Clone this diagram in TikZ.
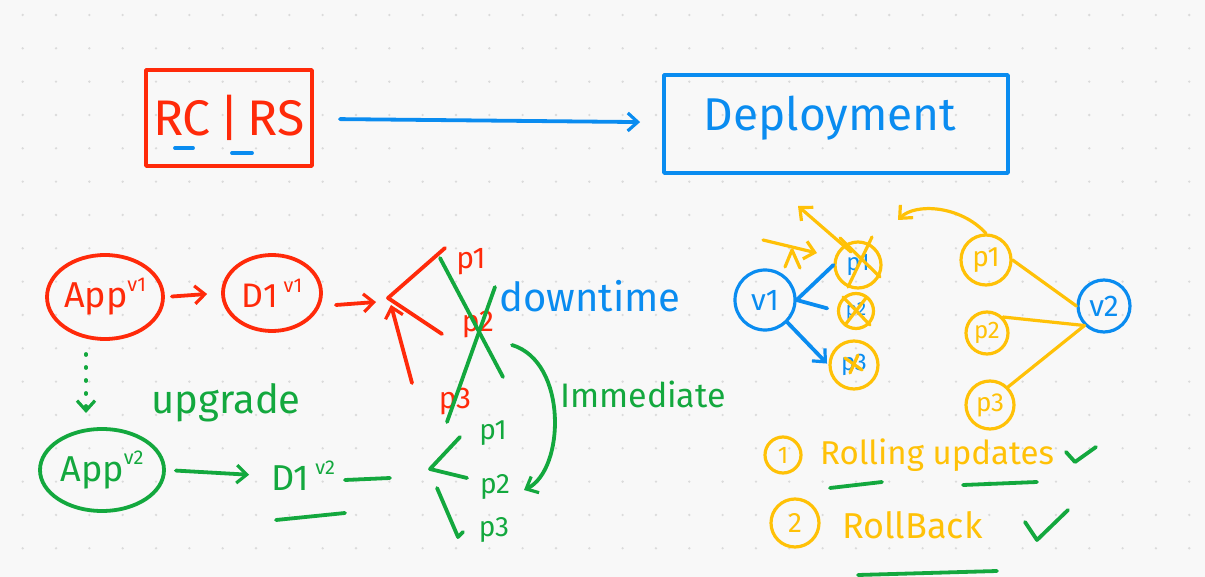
\documentclass[tikz,border=0pt]{standalone}
\usepackage{fontspec}
\setmainfont{Fira Sans}
\usetikzlibrary{arrows.meta,shapes.geometric}
\definecolor{hred}{HTML}{FF2A0A}
\definecolor{hblue}{HTML}{0A8CF0}
\definecolor{hgreen}{HTML}{13A83E}
\definecolor{hyel}{HTML}{FFC107}
\definecolor{bgc}{HTML}{F8F8F8}
\newcommand\fsz[1]{\fontsize{#1}{#1}\selectfont}
\newcommand\vsup[1]{\raisebox{0.45em}{\fsz{20}#1}}
\begin{document}
\begin{tikzpicture}[x=1pt,y=-1pt,line cap=round,line join=round,
  pen/.style={line width=3.8pt},
  thin pen/.style={line width=3.2pt},
  tip/.style={-{Straight Barb[length=10pt,width=18pt,line width=3.2pt]}},
  lbl/.style={inner sep=0pt,outer sep=0pt},
  oval/.style={ellipse,draw,pen,inner sep=0pt},
  ring/.style={circle,draw,thin pen,inner sep=0pt}]
\fill[bgc] (0,0) rectangle (1205,577);
\useasboundingbox (0,0) rectangle (1205,577);
\foreach \i in {0,...,36}{\foreach \j in {0,...,17}{\fill[black!14] (22.7+33.33*\i,15+33.33*\j) circle (1.3);}}

% ---- top row ----
\node[draw=hred,pen,minimum width=166,minimum height=96,text=hred,font=\fsz{50}] (rcrs) at (229,118) {RC\,|\,RS};
\draw[hblue,pen] (175,148) -- (193,148);
\draw[hblue,pen] (232,153) -- (252,153);
\node[draw=hblue,pen,minimum width=344,minimum height=98,text=hblue,font=\fsz{44}] (deploy) at (836,124) {};
\node[lbl,text=hblue,font=\fsz{46}] (deptext) at (830,118) {Deployment};
\draw[hblue,pen,tip,shorten <=26pt,shorten >=22pt] (rcrs) -- (deploy);

% ---- red v1 flow ----
\node[oval,draw=hred,minimum width=116,minimum height=84,text=hred,font=\fsz{36}] (appv1) at (105,297) {App\vsup{v1}};
\node[oval,draw=hred,minimum width=98,minimum height=76,text=hred,font=\fsz{34}] (dv1) at (272,293) {D1\,\vsup{v1}};
\draw[hred,pen,tip,shorten <=7pt,shorten >=14pt] (appv1.east) -- (dv1.west);
\path (dv1.east) ++(13,12) coordinate (a2s);
\coordinate (a2e) at (376,302);
\draw[hred,pen,tip] (a2s) -- (a2e);
\coordinate (fork) at (388,298);
\node[lbl,text=hred,font=\fsz{30}] (rp1) at (471,262) {p1};
\node[lbl,text=hred,font=\fsz{30}] (rp2) at (478,325) {p2};
\node[lbl,text=hred,font=\fsz{30}] (rp3) at (455,402) {p3};
\coordinate (f1) at (445,248);
\coordinate (f2) at (442,334);
\draw[hred,pen] (f1) -- (fork) -- (f2);
\coordinate (up1) at (412,383);
\coordinate (up2) at (391,305);
\draw[hred,pen,tip] (up1) -- (up2);
% green cross over p2
\coordinate (x1a) at (440,258); \coordinate (x1b) at (503,377);
\coordinate (x2a) at (495,287); \coordinate (x2b) at (447,422);
\draw[hgreen,pen] (x1a) -- (x1b);
\draw[hgreen,pen] (x2a) -- (x2b);
\node[lbl,text=hblue,font=\fsz{40}] (down) at (590,296) {downtime};
\node[lbl,text=hgreen,font=\fsz{34}] (imm) at (643,394) {Immediate};
\coordinate (c1) at (512,345);
\coordinate (c2) at (524,490);
\draw[hgreen,pen,tip] (c1) .. controls (568,362) and (565,470) .. (c2);

% ---- green v2 flow ----
\coordinate (d1) at (86,354);
\coordinate (d2) at (86,413);
\draw[hgreen,pen,dash pattern=on 1pt off 12pt,tip] (d1) -- (d2);
\node[lbl,text=hgreen,font=\fsz{40}] (upg) at (226,403) {upgrade};
\node[oval,draw=hgreen,minimum width=124,minimum height=82,text=hgreen,font=\fsz{36}] (appv2) at (102,470) {App\vsup{v2}};
\node[lbl,text=hgreen,font=\fsz{36}] (dv2) at (303,476) {D1\,\vsup{v2}};
\draw[hgreen,pen,tip,shorten <=10pt,shorten >=22pt] (appv2.east) -- (dv2.west);
\coordinate (g1) at (390,478);
\draw[hgreen,pen] (dv2.east) ++(10,4) -- (g1);
\draw[hgreen,pen] (276,520) -- (345,513);
\coordinate (gf1) at (460,437);
\coordinate (gf) at (430,469);
\coordinate (gf2) at (467,478);
\draw[hgreen,pen] (gf1) -- (gf) -- (gf2);
\coordinate (gl1) at (437,488);
\coordinate (gl2) at (458,537);
\draw[hgreen,pen] (gl1) -- (gl2) -- ++(5,-5);
\node[lbl,text=hgreen,font=\fsz{28}] (gp1) at (493,433) {p1};
\node[lbl,text=hgreen,font=\fsz{28}] (gp2) at (495,487) {p2};
\node[lbl,text=hgreen,font=\fsz{28}] (gp3) at (494,530) {p3};

% ---- right: rolling update ----
\node[ring,draw=hblue,minimum size=60,text=hblue,font=\fsz{30}] (v1) at (765,300) {v1};
\node[ring,draw=hyel,minimum size=46,text=hblue,font=\fsz{24}] (yp1) at (858,265) {p1};
\node[ring,draw=hyel,minimum size=35,text=hblue,font=\fsz{19}] (yp2) at (856,311) {p2};
\node[ring,draw=hyel,minimum size=48,text=hblue,font=\fsz{24}] (yp3) at (854,365) {p3};
\draw[hblue,pen] (v1.east) -- (yp1.west);
\draw[hblue,pen,shorten >=10pt] (v1.east) -- (yp2.west);
\draw[hblue,pen,tip,shorten >=2pt] (v1.south east) -- (yp3.west);
\draw[hyel,thin pen] (840,238) -- (880,277);
\draw[hyel,thin pen] (872,237) -- (848,287);
\draw[hyel,thin pen] (843,297) -- (870,325);
\draw[hyel,thin pen] (866,298) -- (845,325);
\draw[hyel,thin pen] (845,358) -- (862,370);
\draw[hyel,thin pen] (858,355) -- (850,373);
\coordinate (ya1) at (851,252);
\coordinate (ya2) at (798,206);
\draw[hyel,thin pen,tip] (ya1) -- (ya2);
\coordinate (yb1) at (763,240);
\coordinate (yb2) at (817,253);
\draw[hyel,thin pen,tip] (yb1) -- (yb2);
\draw[hyel,thin pen] (785,267) -- (792,250) -- (800,268);

\node[ring,draw=hyel,minimum size=50,text=hyel,font=\fsz{28}] (q1) at (986,260) {p1};
\node[ring,draw=hyel,minimum size=42,text=hyel,font=\fsz{24}] (q2) at (987,333) {p2};
\node[ring,draw=hyel,minimum size=48,text=hyel,font=\fsz{26}] (q3) at (990,405) {p3};
\node[ring,draw=hblue,minimum size=52,text=hblue,font=\fsz{30}] (v2) at (1104,306) {v2};
\draw[hyel,thin pen] (q1.east) -- (v2.west);
\draw[hyel,thin pen] (q2.north east) -- (v2.south west);
\draw[hyel,thin pen] (q3.north east) -- (v2.south west);
\coordinate (cb) at (898,220);
\draw[hyel,thin pen,tip] (q1.north) .. controls (960,205) and (915,203) .. (cb);

% ---- bottom list ----
\node[ring,draw=hyel,minimum size=36,text=hyel,font=\fsz{24}] (n1) at (783,455) {1};
\node[lbl,text=hyel,font=\fsz{33},anchor=west] (roll) at (820,455) {Rolling updates};
\draw[hgreen,pen] (1066,452) -- (1075,462) -- (1096,447);
\draw[hgreen,pen] (830,488) -- (882,482);
\draw[hgreen,pen] (963,485) -- (1037,482);
\node[ring,draw=hyel,minimum size=48,text=hyel,font=\fsz{28}] (n2) at (795,523) {2};
\node[lbl,text=hyel,font=\fsz{36},anchor=west] (rb) at (842,525) {RollBack};
\draw[hgreen,pen] (1025,522) -- (1037,540) -- (1068,510);
\draw[hgreen,pen] (858,575) -- (997,571);
\end{tikzpicture}
\end{document}
